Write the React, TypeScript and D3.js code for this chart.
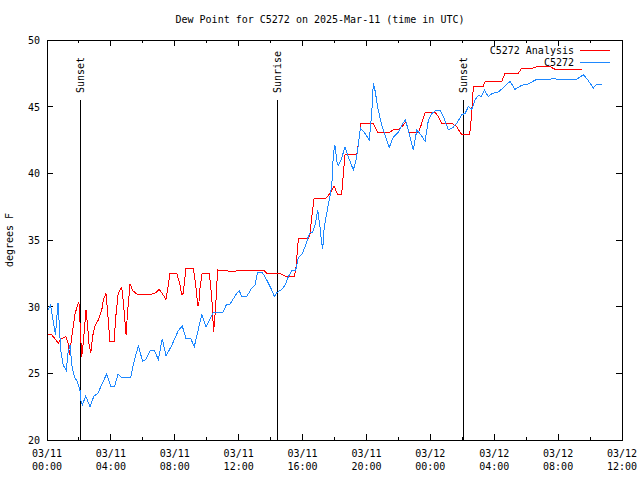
import React from "react";
import * as d3 from "d3";

// hours since 2025-03-11 00:00 UTC
const blueHours = [0.00,0.22,0.38,0.53,0.69,0.86,1.02,1.21,1.31,1.44,1.57,1.73,1.90,2.07,2.11,2.21,2.42,2.69,2.94,3.19,3.44,3.74,3.99,4.24,4.45,4.65,5.24,5.45,5.72,5.99,6.20,6.49,6.70,6.97,7.22,7.45,7.81,8.22,8.47,8.70,9.00,9.22,9.69,9.96,10.41,11.00,11.25,11.46,11.88,12.04,12.19,12.50,12.82,13.02,13.19,13.44,13.65,13.86,14.07,14.23,14.38,14.70,14.90,15.11,15.32,15.57,15.74,15.95,16.16,16.36,16.47,16.61,16.78,16.95,17.09,17.20,17.26,17.36,17.55,17.72,17.83,17.93,18.03,18.16,18.25,18.41,18.66,18.85,18.97,19.18,19.35,19.49,19.62,19.85,20.18,20.33,20.43,20.54,20.73,20.96,21.43,21.67,22.00,22.27,22.45,22.69,22.94,23.15,23.40,23.67,23.88,24.11,24.40,24.61,24.82,25.13,25.38,25.65,25.97,26.18,26.38,26.60,26.80,27.01,27.18,27.38,27.63,27.88,28.26,28.68,28.99,29.30,29.72,30.12,30.66,31.50,31.70,31.92,33.17,33.58,33.80,34.21,34.42,34.73];
const blueValues = [29.6,30.1,29.0,27.9,30.3,26.7,25.6,25.2,26.5,27.1,25.5,24.7,24.4,23.7,23.0,22.6,23.3,22.5,23.3,23.5,24.2,24.95,24.05,24.05,24.95,24.7,24.7,25.9,27.05,25.9,26.05,26.75,26.75,26.05,27.6,26.3,27.1,28.2,28.55,27.6,27.6,27.0,29.4,28.5,29.55,29.55,30.2,30.2,31.0,31.2,30.75,30.75,31.4,31.6,32.6,32.6,32.25,31.75,31.25,30.75,31.05,31.3,31.6,32.25,32.7,32.75,33.7,33.9,34.5,35.25,35.55,35.55,36.1,37.25,36.0,34.75,34.3,36.0,37.25,38.3,39.1,41.5,42.1,40.8,40.6,41.0,42.0,41.3,40.9,40.25,41.0,42.1,43.4,43.1,42.5,44.5,46.75,46.2,44.8,43.6,41.95,42.7,43.1,43.75,44.0,42.9,41.75,43.25,42.9,42.4,44.0,44.5,44.75,44.75,44.25,43.25,43.4,43.75,44.4,44.5,45.0,44.8,45.5,45.85,45.75,46.25,45.75,46.0,46.1,46.55,46.9,46.3,46.6,46.7,47.05,47.05,47.15,47.05,47.05,47.4,47.1,46.4,46.7,46.7];

const redHours = [0.00,0.29,0.50,0.71,0.86,1.19,1.33,1.40,1.50,1.61,1.75,1.90,2.00,2.07,2.17,2.29,2.44,2.54,2.63,2.74,2.86,3.01,3.21,3.43,3.53,3.69,3.74,3.94,4.20,4.32,4.46,4.68,4.79,4.95,5.04,5.20,5.37,5.62,6.56,6.76,7.03,7.26,7.45,7.58,7.70,8.12,8.30,8.43,8.53,8.70,9.16,9.31,9.44,9.50,9.58,9.71,10.16,10.31,10.43,10.55,10.68,11.57,12.60,13.54,13.76,14.59,14.90,15.49,15.59,15.74,16.36,16.47,16.61,16.72,17.41,17.53,17.72,17.97,18.18,18.45,18.55,18.66,19.39,19.54,19.66,20.43,20.68,21.48,21.73,22.00,22.31,22.45,22.67,23.25,23.42,23.67,24.30,24.49,24.70,25.34,25.65,25.86,25.97,26.46,26.55,26.70,27.32,27.43,28.47,28.68,29.51,29.72,30.45,30.66,31.50,31.81,33.48];
const redValues = [27.95,27.9,27.6,27.25,27.55,27.75,27.25,26.4,27.25,28.25,29.4,30.1,30.3,28.75,26.25,27.5,29.75,28.6,27.2,26.5,27.8,28.6,29.0,29.75,30.5,31.0,30.4,27.4,27.4,29.4,31.0,31.45,30.2,27.9,29.5,31.7,31.2,30.95,30.95,31.0,31.3,30.9,30.55,31.5,32.5,32.5,31.8,30.9,31.0,32.9,32.9,31.6,30.1,30.1,31.4,32.5,32.5,30.8,28.1,29.8,32.75,32.65,32.75,32.75,32.5,32.5,32.3,32.25,33.0,35.1,35.1,35.5,37.1,38.1,38.1,38.2,38.5,39.05,38.45,38.45,39.9,41.4,41.4,42.6,43.75,43.75,43.1,43.1,43.3,43.3,43.6,43.85,43.1,43.05,43.6,44.55,44.55,44.3,43.75,43.75,43.5,43.1,42.9,42.9,44.0,46.55,46.55,46.9,46.9,47.5,47.5,47.9,47.9,48.0,48.0,47.8,47.8];

const eventHours = [2.07, 14.4, 26.05];
const eventLabels = ["Sunset", "Sunrise", "Sunset"];

const xTickHours = [0, 4, 8, 12, 16, 20, 24, 28, 32, 36];
const xTickDates = ["03/11","03/11","03/11","03/11","03/11","03/11","03/12","03/12","03/12","03/12"];
const xTickTimes = ["00:00","04:00","08:00","12:00","16:00","20:00","00:00","04:00","08:00","12:00"];
const yTicks = [20, 25, 30, 35, 40, 45, 50];

const seriesNames = ["C5272 Analysis", "C5272"];
const seriesColors = ["#ff0000", "#1e88ff"];

const FONT = "'DejaVu Sans Mono', monospace";

export default function App() {
  const W = 640, H = 480;
  const L = 47, R = 622, T = 40, B = 440;
  const x = d3.scaleLinear().domain([0, 36]).range([L, R]);
  const y = d3.scaleLinear().domain([20, 50]).range([B, T]);
  const minor = d3.range(0, 37, 2);

  const redPts: [number, number][] = redHours.map((h, i) => [h, redValues[i]]);
  const bluePts: [number, number][] = blueHours.map((h, i) => [h, blueValues[i]]);
  const line = d3.line<[number, number]>().x(d => x(d[0])).y(d => y(d[1]));

  return (
    <svg width={W} height={H} style={{ position: "absolute", left: 0, top: 0, background: "#fff" }}
      fontFamily={FONT} fontSize={10}>
      <rect x={0} y={0} width={W} height={H} fill="#fff" />
      <text x={320} y={23} textAnchor="middle">Dew Point for C5272 on 2025-Mar-11 (time in UTC)</text>
      <text transform={`translate(13,${(T + B) / 2}) rotate(-90)`} textAnchor="middle">degrees F</text>

      <g shapeRendering="crispEdges" stroke="#000">
        {yTicks.map(v => (
          <g key={"y" + v}>
            <line x1={L} x2={L + 6} y1={y(v)} y2={y(v)} />
            <line x1={R} x2={R - 6} y1={y(v)} y2={y(v)} />
          </g>
        ))}
        {minor.map(h => {
          const major = h % 4 === 0;
          const len = major ? 6 : 3;
          return (
            <g key={"x" + h}>
              <line x1={x(h)} x2={x(h)} y1={B} y2={B - len} />
              <line x1={x(h)} x2={x(h)} y1={T} y2={T + len} />
            </g>
          );
        })}
      </g>

      {yTicks.map(v => (
        <text key={"yl" + v} x={40} y={y(v) + 4} textAnchor="end">{v}</text>
      ))}
      {xTickHours.map((h, i) => (
        <g key={"xl" + h}>
          <text x={x(h)} y={457} textAnchor="middle">{xTickDates[i]}</text>
          <text x={x(h)} y={470} textAnchor="middle">{xTickTimes[i]}</text>
        </g>
      ))}

      {eventHours.map((h, i) => (
        <g key={"ev" + i}>
          <line x1={x(h)} x2={x(h)} y1={100} y2={B} stroke="#000" shapeRendering="crispEdges" />
          <text transform={`translate(${x(h) + 4},93) rotate(-90)`} textAnchor="start">{eventLabels[i]}</text>
        </g>
      ))}

      <path d={line(redPts) || ""} fill="none" stroke={seriesColors[0]} strokeWidth={1} shapeRendering="crispEdges" />
      <path d={line(bluePts) || ""} fill="none" stroke={seriesColors[1]} strokeWidth={1} shapeRendering="crispEdges" />

      {seriesNames.map((n, i) => (
        <g key={"lg" + i}>
          <text x={574} y={54 + i * 12} textAnchor="end">{n}</text>
          <line x1={580} x2={610} y1={50 + i * 12} y2={50 + i * 12} stroke={seriesColors[i]} shapeRendering="crispEdges" />
        </g>
      ))}

      <rect x={L} y={T} width={R - L} height={B - T} fill="none" stroke="#000" shapeRendering="crispEdges" />
    </svg>
  );
}
